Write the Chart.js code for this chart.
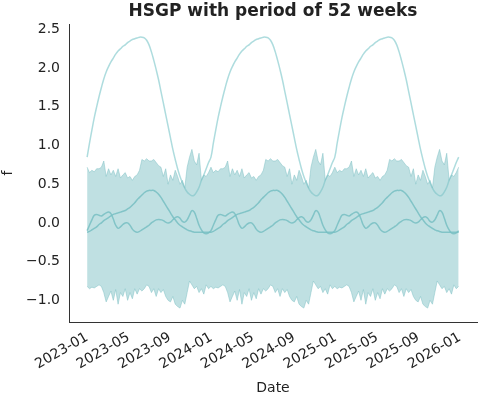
<!DOCTYPE html>
<html>
<head>
<meta charset="utf-8">
<script src="https://cdn.jsdelivr.net/npm/chart.js@4"></script>
<style>
  body { margin: 0; background: #fff; }
  #wrap { width: 480px; height: 400px; }
</style>
</head>
<body>
<div id="wrap"><canvas id="chart"></canvas></div>
<script>
// one 52-week period; the fit repeats each year
const trendYear = [0.85, 1.03, 1.2, 1.36, 1.5, 1.63, 1.75, 1.86, 1.95, 2.02, 2.08, 2.13, 2.18, 2.22, 2.25, 2.28, 2.3, 2.33, 2.35, 2.37, 2.38, 2.39, 2.4, 2.4, 2.39, 2.36, 2.3, 2.21, 2.1, 1.98, 1.85, 1.7, 1.55, 1.4, 1.25, 1.1, 0.95, 0.82, 0.7, 0.6, 0.52, 0.45, 0.4, 0.37, 0.35, 0.36, 0.4, 0.46, 0.55, 0.62, 0.7, 0.78]
const smoothYear = [-0.12, -0.11, -0.09, -0.07, -0.05, -0.02, 0.0, 0.03, 0.05, 0.07, 0.09, 0.11, 0.12, 0.13, 0.14, 0.15, 0.16, 0.18, 0.2, 0.23, 0.26, 0.3, 0.33, 0.36, 0.39, 0.41, 0.42, 0.42, 0.42, 0.4, 0.37, 0.33, 0.28, 0.23, 0.18, 0.13, 0.08, 0.04, 0.0, -0.03, -0.05, -0.07, -0.09, -0.1, -0.11, -0.12, -0.12, -0.12, -0.12, -0.12, -0.12, -0.12]
const wigglyYear = [-0.1, -0.03, 0.04, 0.1, 0.11, 0.1, 0.09, 0.11, 0.13, 0.14, 0.12, 0.05, -0.03, -0.07, -0.05, -0.02, 0.0, 0.0, -0.03, -0.08, -0.11, -0.12, -0.11, -0.09, -0.07, -0.05, -0.03, 0.0, 0.02, 0.04, 0.045, 0.04, 0.03, 0.01, 0.0, 0.01, 0.04, 0.07, 0.08, 0.06, 0.02, 0.01, 0.04, 0.1, 0.16, 0.14, 0.06, -0.03, -0.09, -0.13, -0.14, -0.13]
const upperYear = [0.72, 0.65, 0.68, 0.66, 0.7, 0.7, 0.72, 0.8, 0.6, 0.7, 0.62, 0.68, 0.6, 0.7, 0.58, 0.62, 0.65, 0.58, 0.6, 0.55, 0.6, 0.62, 0.68, 0.82, 0.8, 0.83, 0.8, 0.8, 0.82, 0.78, 0.74, 0.72, 0.6, 0.7, 0.5, 0.62, 0.55, 0.68, 0.6, 0.5, 0.55, 0.45, 0.72, 0.85, 0.95, 0.8, 0.75, 0.9, 0.55, 0.62, 0.6, 0.65]
const lowerYear = [-0.82, -0.85, -0.83, -0.84, -0.82, -0.8, -0.82, -0.9, -1.02, -0.95, -0.88, -1.0, -0.86, -1.05, -0.9, -0.95, -0.85, -1.0, -0.9, -0.98, -0.85, -0.92, -0.85, -0.88, -0.85, -0.8, -0.82, -0.9, -0.85, -0.95, -0.85, -0.9, -0.86, -0.95, -1.0, -1.02, -0.95, -1.05, -1.08, -1.1, -1.0, -1.05, -0.9, -0.75, -0.8, -0.85, -0.82, -0.9, -0.85, -0.92, -0.8, -0.85]
const nYears = 3
const tickLabels = ['2023-01', '2023-05', '2023-09', '2024-01', '2024-05', '2024-09', '2025-01', '2025-05', '2025-09', '2026-01']
const yTicks = [-1, -0.5, 0, 0.5, 1, 1.5, 2, 2.5]
const title = 'HSGP with period of 52 weeks'

const bandColor = 'rgba(128, 194, 198, 0.5)'
const lineColor = 'rgba(110, 188, 192, 0.85)'
const lightColor = 'rgba(140, 205, 208, 0.7)'

function series(year) {
  const pts = []
  for (let y = 0; y < nYears; y++) {
    year.forEach((v, i) => pts.push({ x: (y * 52 + i) * 7 / 30.4375, y: v }))
  }
  pts.push({ x: nYears * 52 * 7 / 30.4375, y: year[0] })
  return pts
}

// title centred over the plot area, like matplotlib
const plotTitle = {
  id: 'plotTitle',
  afterDraw(chart) {
    const c = chart.ctx
    const a = chart.chartArea
    c.save()
    c.fillStyle = '#222'
    c.font = 'bold 17px "DejaVu Sans"'
    c.textAlign = 'center'
    c.textBaseline = 'middle'
    c.fillText(title, (a.left + a.right) / 2, 12)
    c.restore()
  },
}

const ctx = document.getElementById('chart')
new Chart(ctx, {
  type: 'line',
  data: {
    datasets: [
      { data: series(upperYear), borderColor: bandColor, borderWidth: 1, backgroundColor: bandColor, fill: '+1' },
      { data: series(lowerYear), borderColor: bandColor, borderWidth: 1, fill: false },
      { data: series(trendYear), borderColor: lightColor, borderWidth: 1.5, fill: false, tension: 0.4 },
      { data: series(smoothYear), borderColor: lineColor, borderWidth: 1.5, fill: false, tension: 0.4 },
      { data: series(wigglyYear), borderColor: lineColor, borderWidth: 1.5, fill: false, tension: 0.4 },
    ],
  },
  plugins: [plotTitle],
  options: {
    responsive: true,
    maintainAspectRatio: false,
    animation: false,
    elements: { point: { radius: 0 } },
    layout: { padding: { left: 0, right: 3, top: 24, bottom: 0 } },
    plugins: {
      legend: { display: false },
      tooltip: { enabled: false },
    },
    scales: {
      x: {
        type: 'linear',
        min: -1.75,
        max: 37.65,
        afterBuildTicks: (axis) => { axis.ticks = tickLabels.map((_, i) => ({ value: i * 4 })) },
        afterFit: (axis) => { axis.height = 78 },
        ticks: {
          callback: (v) => tickLabels[Math.round(v / 4)],
          maxRotation: 30,
          minRotation: 30,
          color: '#222',
          font: { family: 'DejaVu Sans', size: 14 },
          padding: 2,
        },
        grid: { display: false, drawTicks: true, tickLength: 5, tickColor: '#333' },
        border: { color: '#333' },
        title: { display: true, text: 'Date', color: '#222', font: { family: 'DejaVu Sans', size: 14 }, padding: { top: 0, bottom: 3 } },
      },
      y: {
        min: -1.28,
        max: 2.57,
        afterBuildTicks: (axis) => { axis.ticks = yTicks.map((v) => ({ value: v })) },
        afterFit: (axis) => { axis.width = 69 },
        ticks: {
          callback: (v) => v.toFixed(1).replace('-', '\u2212'),
          color: '#222',
          font: { family: 'DejaVu Sans', size: 14 },
          padding: 4,
        },
        grid: { display: false, drawTicks: true, tickLength: 5, tickColor: '#333' },
        border: { color: '#333' },
        title: { display: true, text: 'f', color: '#222', font: { family: 'DejaVu Sans', size: 14 }, padding: 0 },
      },
    },
  },
})
</script>
</body>
</html>
